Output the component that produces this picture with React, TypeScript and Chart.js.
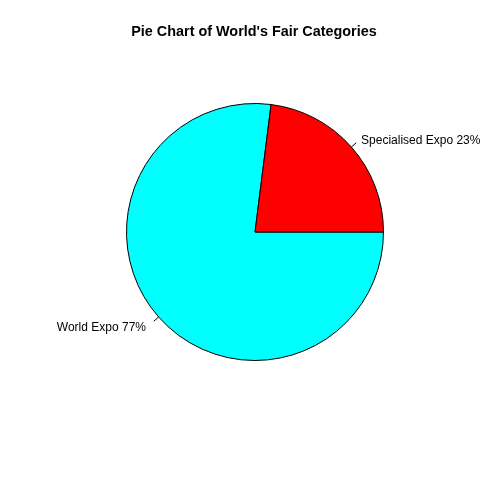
import React, { useEffect, useRef } from "react";
import { Chart, registerables } from "chart.js";

Chart.register(...registerables);

const title = "Pie Chart of World's Fair Categories";
const categories = ["Specialised Expo", "World Expo"];
const values = [23, 77];
const colors = ["#FF0000", "#00FFFF"];

const labelPlugin = {
  id: "pieLabels",
  afterDraw(chart: any) {
    const ctx = chart.ctx;
    const meta = chart.getDatasetMeta(0);
    const total = values.reduce((a, b) => a + b, 0);
    ctx.save();
    // title
    ctx.fillStyle = "#000";
    ctx.font = "bold 14.4px 'Liberation Sans', Arial, sans-serif";
    ctx.textAlign = "center";
    ctx.textBaseline = "middle";
    ctx.fillText(title, 254, 32);
    ctx.font = "12px 'Liberation Sans', Arial, sans-serif";
    ctx.strokeStyle = "#000";
    ctx.lineWidth = 1;
    meta.data.forEach((arc: any, i: number) => {
      const idx = chart.data.labels[i];
      const k = categories.indexOf(idx);
      const mid = (arc.startAngle + arc.endAngle) / 2;
      const r = arc.outerRadius;
      const c = Math.cos(mid);
      const s = Math.sin(mid);
      ctx.beginPath();
      ctx.moveTo(arc.x + r * c, arc.y + r * s);
      ctx.lineTo(arc.x + 1.05 * r * c, arc.y + 1.05 * r * s);
      ctx.stroke();
      const pct = Math.round((values[k] / total) * 100);
      ctx.textAlign = c >= 0 ? "left" : "right";
      ctx.textBaseline = "middle";
      ctx.fillText(`${categories[k]} ${pct}%`, arc.x + 1.1 * r * c + (c >= 0 ? 0 : -3), arc.y + 1.1 * r * s + 2);
    });
    ctx.restore();
  },
};

export default function App() {
  const ref = useRef<HTMLCanvasElement>(null);
  useEffect(() => {
    if (!ref.current) return;
    // R draws counter-clockwise from 3 o'clock; Chart.js draws clockwise, so reverse order
    const order = [...categories.keys()].reverse();
    const chart = new Chart(ref.current, {
      type: "pie",
      data: {
        labels: order.map((i) => categories[i]),
        datasets: [
          {
            data: order.map((i) => values[i]),
            backgroundColor: order.map((i) => colors[i]),
            borderColor: "#000000",
            borderWidth: 1,
          },
        ],
      },
      options: {
        responsive: false,
        animation: false,
        rotation: 90,
        layout: { padding: { left: 126, right: 96, top: 103, bottom: 119 } },
        plugins: {
          legend: { display: false },
          title: { display: false },
          tooltip: { enabled: false },
        },
      },
      plugins: [labelPlugin],
    });
    return () => chart.destroy();
  }, []);
  return (
    <div style={{ position: "absolute", left: 0, top: 0, width: 480, height: 480, background: "#fff" }}>
      <canvas ref={ref} width={480} height={480} />
    </div>
  );
}
